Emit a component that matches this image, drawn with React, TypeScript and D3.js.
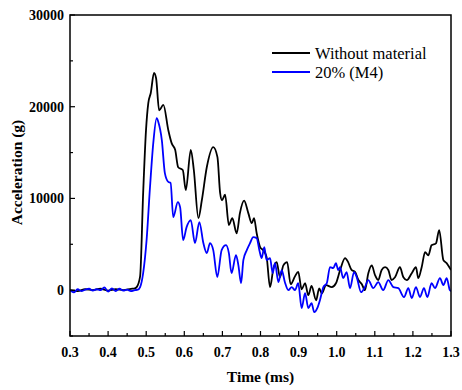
import React from "react";
import * as d3 from "d3";

const timeBlack = [0.30,0.32,0.34,0.36,0.38,0.40,0.42,0.44,0.46,0.47,0.475,0.484,0.492,0.4995,0.5055,0.512,0.5205,0.526,0.534,0.545,0.558,0.567,0.576,0.584,0.596,0.604,0.617,0.625,0.637,0.646,0.659,0.676,0.687,0.694,0.699,0.707,0.717,0.726,0.7375,0.746,0.757,0.768,0.777,0.783,0.790,0.799,0.807,0.816,0.825,0.834,0.8425,0.851,0.860,0.870,0.879,0.8905,0.899,0.908,0.917,0.9255,0.934,0.946,0.954,0.961,0.972,0.987,0.998,1.009,1.022,1.030,1.039,1.048,1.057,1.066,1.074,1.083,1.092,1.1005,1.109,1.118,1.127,1.1355,1.144,1.153,1.166,1.175,1.184,1.197,1.208,1.214,1.223,1.232,1.2405,1.249,1.2605,1.269,1.280,1.2885,1.297,1.30];
const accelBlack = [0,-100,100,0,150,-50,100,0,150,200,330,1500,10580,17450,20400,21500,23700,23100,19600,20200,17450,16000,15300,13400,13100,10900,15300,13100,7850,9800,13400,15600,14500,10600,9800,10400,7100,7850,6200,8400,9750,8400,7300,7850,6200,4700,4350,3600,330,2400,3050,1400,2700,3050,650,1500,2000,100,750,-550,450,-1100,200,-350,550,330,750,2200,3500,3050,2200,2000,1100,650,0,1850,2700,1650,1100,2200,2500,2200,1100,1400,2500,1400,1100,1850,2500,1300,2500,4150,3800,4900,5100,6550,3270,2950,2400,2200];

const timeBlue = [0.30,0.31,0.32,0.33,0.34,0.35,0.36,0.37,0.38,0.39,0.40,0.41,0.42,0.43,0.44,0.45,0.46,0.47,0.478,0.484,0.492,0.501,0.510,0.5185,0.5275,0.532,0.541,0.549,0.558,0.564,0.571,0.583,0.589,0.597,0.606,0.617,0.628,0.6395,0.650,0.659,0.6675,0.676,0.6866,0.698,0.7095,0.717,0.724,0.7357,0.742,0.749,0.755,0.764,0.7725,0.781,0.790,0.797,0.803,0.810,0.816,0.825,0.832,0.838,0.847,0.8557,0.864,0.873,0.882,0.8905,0.899,0.908,0.917,0.9255,0.934,0.941,0.949,0.956,0.965,0.974,0.9825,0.991,0.998,1.004,1.0087,1.017,1.026,1.035,1.0455,1.0525,1.064,1.074,1.083,1.096,1.109,1.122,1.1355,1.1486,1.1617,1.1766,1.188,1.197,1.208,1.2186,1.229,1.238,1.249,1.258,1.271,1.280,1.2887,1.297,1.30];
const accelBlue = [0,-250,100,-100,50,150,-50,100,0,300,-150,200,-100,150,-50,50,-100,0,50,330,1850,5450,11240,16000,18750,18300,16350,12760,11800,11700,7960,9600,9050,5450,6870,7640,5130,7420,5130,4040,5130,4360,1420,4360,4900,4040,1850,3820,2700,760,3270,4360,5130,5780,5670,4360,3490,4690,3270,3490,1850,2950,870,2180,870,0,330,0,760,-1960,-330,-1960,-1420,-2400,-1960,-1090,330,760,2510,2400,2950,2180,2510,1310,1960,220,1960,1420,-220,330,1090,220,870,0,1090,330,220,-760,220,-870,330,-760,220,-760,760,220,1310,550,1310,0,-100];

const xTicks = [0.3,0.4,0.5,0.6,0.7,0.8,0.9,1.0,1.1,1.2,1.3];
const xMinor = [0.35,0.45,0.55,0.65,0.75,0.85,0.95,1.05,1.15,1.25];
const yTicks = [0,10000,20000,30000];
const yMinor = [-5000,5000,15000,25000];
const seriesNames = ["Without material", "20% (M4)"];
const seriesColors = ["#000000", "#0000ff"];

export default function App() {
  const W = 462, H = 390;
  const L = 70, R = 451, T = 15, B = 336;
  const x = d3.scaleLinear().domain([0.3, 1.3]).range([L, R]);
  const y = d3.scaleLinear().domain([-5000, 30000]).range([B, T]);
  const line = d3.line<[number, number]>().x(d => x(d[0])).y(d => y(d[1])).curve(d3.curveMonotoneX);
  const blackPts: [number, number][] = timeBlack.map((t, i) => [t, accelBlack[i]]);
  const bluePts: [number, number][] = timeBlue.map((t, i) => [t, accelBlue[i]]);
  const font = "'Liberation Serif', 'Times New Roman', serif";
  return (
    <svg width={W} height={H} style={{ position: "absolute", left: 0, top: 0 }}>
      <rect x={0} y={0} width={W} height={H} fill="#fff" />
      <defs>
        <clipPath id="plotclip"><rect x={L} y={T} width={R - L} height={B - T} /></clipPath>
      </defs>
      <g clipPath="url(#plotclip)">
        <path d={line(blackPts) || ""} fill="none" stroke={seriesColors[0]} strokeWidth={1.8} strokeLinejoin="round" />
        <path d={line(bluePts) || ""} fill="none" stroke={seriesColors[1]} strokeWidth={1.8} strokeLinejoin="round" />
      </g>
      <rect x={L} y={T} width={R - L} height={B - T} fill="none" stroke="#000" strokeWidth={1.5} />
      {xTicks.map(t => (
        <g key={"xt" + t}>
          <line x1={x(t)} x2={x(t)} y1={B} y2={B - 5} stroke="#000" strokeWidth={1.2} />
          <text x={x(t)} y={357} textAnchor="middle" fontFamily={font} fontWeight="bold" fontSize={14}>{t.toFixed(1)}</text>
        </g>
      ))}
      {xMinor.map(t => (
        <line key={"xm" + t} x1={x(t)} x2={x(t)} y1={B} y2={B - 3} stroke="#000" strokeWidth={1.2} />
      ))}
      {yTicks.map(v => (
        <g key={"yt" + v}>
          <line x1={L} x2={L + 5} y1={y(v)} y2={y(v)} stroke="#000" strokeWidth={1.2} />
          <text x={64} y={y(v) + 5} textAnchor="end" fontFamily={font} fontWeight="bold" fontSize={14}>{v}</text>
        </g>
      ))}
      {yMinor.map(v => (
        <line key={"ym" + v} x1={L} x2={L + 3} y1={y(v)} y2={y(v)} stroke="#000" strokeWidth={1.2} />
      ))}
      <text x={(L + R) / 2} y={382} textAnchor="middle" fontFamily={font} fontWeight="bold" fontSize={15.5}>Time (ms)</text>
      <text transform={`translate(22,${(T + B) / 2 - 3}) rotate(-90)`} textAnchor="middle" fontFamily={font} fontWeight="bold" fontSize={15.5}>Acceleration (g)</text>
      {seriesNames.map((n, i) => (
        <g key={n}>
          <line x1={272} x2={310} y1={53 + i * 19} y2={53 + i * 19} stroke={seriesColors[i]} strokeWidth={1.8} />
          <text x={315} y={58.5 + i * 19} fontFamily={font} fontSize={16.5}>{n}</text>
        </g>
      ))}
    </svg>
  );
}
